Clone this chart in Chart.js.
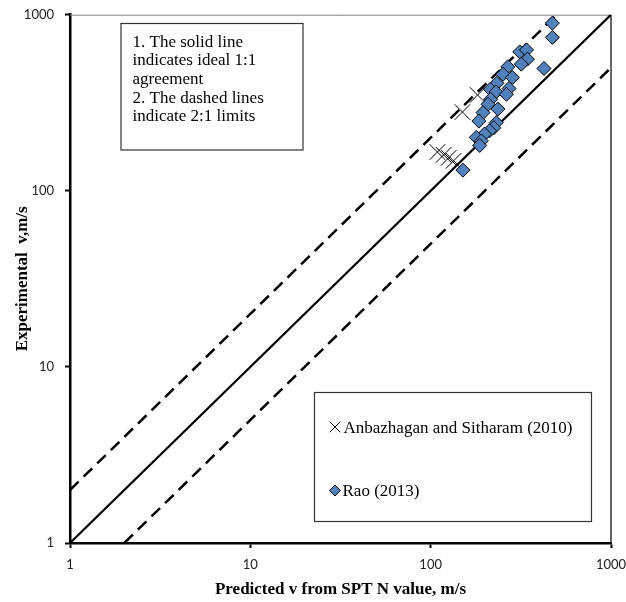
<!DOCTYPE html>
<html>
<head>
<meta charset="utf-8">
<script src="https://cdn.jsdelivr.net/npm/chart.js@4/dist/chart.umd.min.js"></script>
<style>
  html, body { margin: 0; padding: 0; background: #fff; }
  #wrap { width: 626px; height: 602px; position: relative; }
</style>
</head>
<body>
<div id="wrap"><canvas id="c" width="626" height="602"></canvas></div>
<script>
// ---- Data ----
const xTickValues = [1, 10, 100, 1000];
const yTickValues = [1, 10, 100, 1000];

const anbPredicted    = [109, 118, 126, 134, 150, 182];
const anbExperimental = [166, 160, 154, 148, 280, 350];

const raoPredicted    = [473, 473, 312, 340, 344, 318, 425, 268, 252, 284, 233, 272, 214, 230,
                         263, 215, 208, 236, 195, 185, 231, 224, 212, 199, 179, 191, 187, 151];
const raoExperimental = [896, 743, 615, 631, 559, 524, 495, 506, 459, 440, 408, 381, 377, 364,
                         353, 331, 310, 291, 278, 249, 244, 228, 219, 210, 201, 192, 181, 131];

const idealX = [1, 1000],  idealY = [1, 1000];
const upperX = [1, 500],   upperY = [2, 1000];
const lowerX = [2, 1000],  lowerY = [1, 500];

const anbLabel = 'Anbazhagan and Sitharam (2010)';
const raoLabel = 'Rao (2013)';
const noteLines = ['1. The solid line', 'indicates ideal 1:1', 'agreement', '2. The dashed lines', 'indicate 2:1 limits'];
const xTitle = 'Predicted v from SPT N value, m/s';
const yTitle = 'Experimental  v,m/s';

const pts = (xs, ys) => xs.map((x, i) => ({ x: x, y: ys[i] }));

const RAO_FILL = '#4F81BD';

const boxesPlugin = {
  id: 'boxes',
  beforeDatasetsDraw(chart) {
    const { ctx, chartArea: a } = chart;
    ctx.save();
    ctx.strokeStyle = '#7f7f7f';
    ctx.lineWidth = 1;
    ctx.beginPath();
    ctx.moveTo(a.left, a.top + 0.5);
    ctx.lineTo(a.right, a.top + 0.5);
    ctx.stroke();
    ctx.strokeStyle = '#333';
    ctx.lineWidth = 1.5;
    ctx.beginPath();
    ctx.moveTo(a.right, a.top);
    ctx.lineTo(a.right, a.bottom);
    ctx.stroke();
    ctx.restore();
  },
  afterDatasetsDraw(chart) {
    const { ctx } = chart;
    ctx.save();
    // Note box
    ctx.fillStyle = '#fff';
    ctx.fillRect(121, 23.5, 182, 126.5);
    ctx.strokeStyle = '#333';
    ctx.lineWidth = 1.2;
    ctx.strokeRect(121, 23.5, 182, 126.5);
    ctx.fillStyle = '#000';
    ctx.font = '17px "Liberation Serif", "Times New Roman", serif';
    ctx.textAlign = 'left';
    ctx.textBaseline = 'alphabetic';
    noteLines.forEach((t, i) => ctx.fillText(t, 132.5, 46.7 + i * 18.6));

    // Legend box
    ctx.fillStyle = '#fff';
    ctx.fillRect(314.5, 392.5, 277, 129);
    ctx.strokeStyle = '#333';
    ctx.lineWidth = 1.2;
    ctx.strokeRect(314.5, 392.5, 277, 129);

    // legend markers from dataset styles
    const dsA = chart.data.datasets[0];
    const dsR = chart.data.datasets[1];
    ctx.strokeStyle = dsA.borderColor;
    ctx.lineWidth = 1;
    Chart.helpers.drawPoint(ctx, { pointStyle: dsA.pointStyle, radius: 7.5, borderWidth: 1, rotation: 0 }, 335, 427);
    ctx.fillStyle = dsR.backgroundColor;
    ctx.strokeStyle = dsR.borderColor;
    ctx.lineWidth = 1;
    Chart.helpers.drawPoint(ctx, { pointStyle: dsR.pointStyle, radius: 5.5, borderWidth: 1, rotation: 0 }, 335, 490.5);

    ctx.fillStyle = '#000';
    ctx.font = '17px "Liberation Serif", "Times New Roman", serif';
    ctx.fillText(dsA.label, 343.5, 432.7);
    ctx.fillText(dsR.label, 342.5, 495.5);
    ctx.restore();
  }
};

const tickFont = { family: 'Lato, "Liberation Sans", sans-serif', size: 13 };
const titleFont = { family: '"Liberation Serif", "Times New Roman", serif', size: 17, weight: 'bold' };

new Chart(document.getElementById('c'), {
  type: 'scatter',
  data: {
    datasets: [
      {
        label: anbLabel, data: pts(anbPredicted, anbExperimental),
        pointStyle: 'crossRot', pointRadius: 11, pointHoverRadius: 11,
        borderColor: '#000', backgroundColor: '#000', borderWidth: 1, order: 1
      },
      {
        label: raoLabel, data: pts(raoPredicted, raoExperimental),
        pointStyle: 'rectRot', pointRadius: 7, pointHoverRadius: 7,
        borderColor: '#000', backgroundColor: RAO_FILL, borderWidth: 1, order: 0
      },
      {
        label: 'ideal', type: 'line', data: pts(idealX, idealY),
        borderColor: '#000', borderWidth: 2.2, pointRadius: 0, fill: false, order: 5
      },
      {
        label: 'upper', type: 'line', data: pts(upperX, upperY),
        borderColor: '#000', borderWidth: 2.5, borderDash: [12, 7], pointRadius: 0, fill: false, order: 5
      },
      {
        label: 'lower', type: 'line', data: pts(lowerX, lowerY),
        borderColor: '#000', borderWidth: 2.5, borderDash: [12, 7], pointRadius: 0, fill: false, order: 5
      }
    ]
  },
  options: {
    responsive: false,
    animation: false,
    events: [],
    layout: { padding: { top: 14.7, right: 15, left: 0, bottom: 0 } },
    plugins: { legend: { display: false }, tooltip: { enabled: false } },
    scales: {
      x: {
        type: 'logarithmic', min: 1, max: 1000,
        afterFit(s) { s.height = 59; s.paddingLeft = 0; s.paddingRight = 0; },
        afterBuildTicks(s) { s.ticks = xTickValues.map(v => ({ value: v })); },
        ticks: { callback: v => String(v), color: '#222', font: tickFont, padding: 9, maxRotation: 0, autoSkip: false },
        grid: { drawOnChartArea: false, drawTicks: true, tickLength: 5, tickWidth: 2, tickColor: '#000' },
        border: { display: true, color: '#000', width: 2.5 },
        title: { display: true, text: xTitle, color: '#000', font: titleFont, padding: { top: 0, bottom: 2 } }
      },
      y: {
        type: 'logarithmic', min: 1, max: 1000,
        afterFit(s) { s.width = 70; s.paddingTop = 0; s.paddingBottom = 0; },
        afterBuildTicks(s) { s.ticks = yTickValues.map(v => ({ value: v })); },
        ticks: { callback: v => String(v), color: '#222', font: tickFont, padding: 11, autoSkip: false },
        grid: { drawOnChartArea: false, drawTicks: true, tickLength: 5, tickWidth: 2, tickColor: '#000' },
        border: { display: true, color: '#000', width: 2.5 },
        title: { display: true, text: yTitle, color: '#000', font: titleFont, padding: { top: 12, bottom: 0 } }
      }
    }
  },
  plugins: [boxesPlugin]
});
</script>
</body>
</html>
